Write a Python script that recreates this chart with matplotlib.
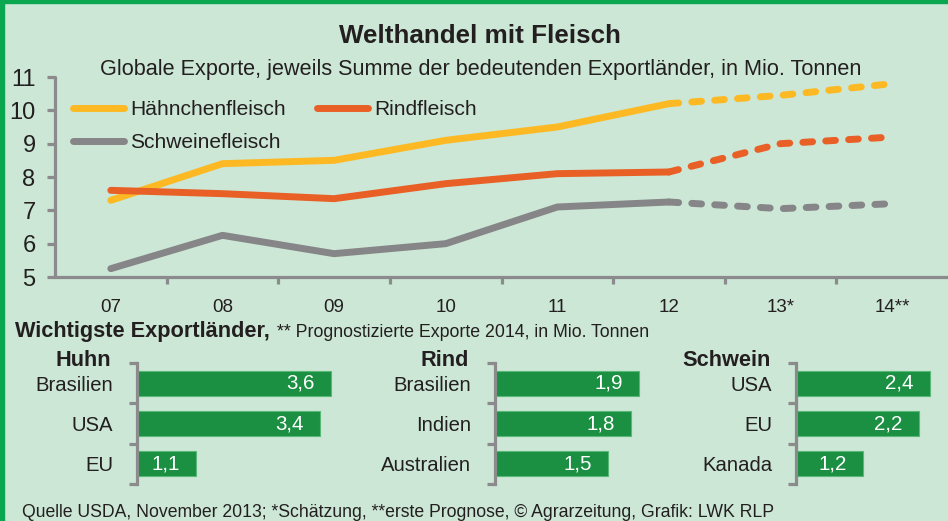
import matplotlib
matplotlib.use('Agg')
import matplotlib.pyplot as plt
from matplotlib import font_manager
from matplotlib.patches import Rectangle

# ---------------- data ----------------
years = ['07', '08', '09', '10', '11', '12', '13*', '14**']
haehnchen = [7.3, 8.4, 8.5, 9.1, 9.5, 10.2, 10.45, 10.8]
rind = [7.6, 7.5, 7.35, 7.8, 8.1, 8.15, 9.0, 9.2]
schwein = [5.25, 6.25, 5.7, 6.0, 7.1, 7.25, 7.05, 7.2]
n_actual = 6  # 07..12 actual (solid), 12..14 estimate/forecast (dashed)
yticks = [5, 6, 7, 8, 9, 10, 11]

huhn_countries = ['Brasilien', 'USA', 'EU']
huhn_values = [3.6, 3.4, 1.1]
rind_countries = ['Brasilien', 'Indien', 'Australien']
rind_values = [1.9, 1.8, 1.5]
schwein_countries = ['USA', 'EU', 'Kanada']
schwein_values = [2.4, 2.2, 1.2]

# ---------------- style ----------------
names = {f.name for f in font_manager.fontManager.ttflist}
if 'Liberation Sans Narrow' in names:
    FONT, S = 'Liberation Sans Narrow', 1.19
else:
    FONT, S = 'Liberation Sans', 1.0
plt.rcParams['font.family'] = [FONT, 'DejaVu Sans']

BG = '#cce7d5'
BORDER = '#0aa650'
TXT = '#231f20'
AX = '#8b8b8d'
C_H = '#fdb924'
C_R = '#e96027'
C_S = '#868588'
BAR = '#1b9042'

W, H = 948, 521
fig = plt.figure(figsize=(W / 100, H / 100), dpi=100, facecolor=BG)


def fx(px):
    return px / W


def fy(py):
    return 1 - py / H


# border
fig.patches.append(Rectangle((0, fy(3)), 1, 3 / H, transform=fig.transFigure,
                             color=BORDER, zorder=10))
fig.patches.append(Rectangle((0, 0), 3.5 / W, 1, transform=fig.transFigure,
                             color=BORDER, zorder=10))

# titles
fig.text(fx(480), fy(43), 'Welthandel mit Fleisch', ha='center', va='baseline',
         fontsize=18.7 * S, fontweight='bold', color=TXT)
fig.text(fx(481), fy(75), 'Globale Exporte, jeweils Summe der bedeutenden Exportländer, in Mio. Tonnen',
         ha='center', va='baseline', fontsize=15.6 * S, color=TXT)

# ---------------- line chart ----------------
ax = fig.add_axes([fx(55), fy(277), fx(893), 200 / H])
ax.set_facecolor('none')
x = list(range(len(years)))
lw = 5
series = [(haehnchen, C_H, 'Hähnchenfleisch'), (rind, C_R, 'Rindfleisch'),
          (schwein, C_S, 'Schweinefleisch')]
handles = {}
for vals, col, lab in series:
    h, = ax.plot(x[:n_actual], vals[:n_actual], color=col, lw=lw,
                 solid_capstyle='round', solid_joinstyle='round', label=lab)
    ax.plot(x[n_actual - 1:], vals[n_actual - 1:], color=col, lw=lw,
            dashes=(1.4, 1.9), dash_capstyle='round', dash_joinstyle='round')
    handles[lab] = h

ax.set_xlim(-0.5, len(years) - 0.5)
ax.set_ylim(5, 11)
ax.set_yticks(yticks)
ax.set_yticklabels([str(v) for v in yticks])
ax.set_xticks(x)
ax.set_xticklabels(years)
ax.set_xticks([i + 0.5 for i in x[:-1]], minor=True)
for sp in ['top', 'right']:
    ax.spines[sp].set_visible(False)
for sp in ['left', 'bottom']:
    ax.spines[sp].set_color(AX)
    ax.spines[sp].set_linewidth(2.3)
    ax.spines[sp].set_capstyle('round')
ax.tick_params(axis='y', direction='out', length=6, width=2.3, color=AX,
               labelsize=17, labelcolor=TXT, pad=8)
for t in ax.get_yticklabels():
    t.set_fontfamily(['Liberation Sans', 'DejaVu Sans'])
ax.tick_params(axis='x', which='major', length=0, labelsize=13.5 * S,
               labelcolor=TXT, pad=16)
ax.tick_params(axis='x', which='minor', direction='out', length=5, width=2.3, color=AX)

order = ['Hähnchenfleisch', 'Schweinefleisch', 'Rindfleisch']
leg = ax.legend([handles[k] for k in order], order, ncol=2, frameon=False,
                loc='upper left', bbox_to_anchor=(fx(73), fy(100)),
                bbox_transform=fig.transFigure, fontsize=15.1 * S,
                handlelength=2.42, handletextpad=0.3, columnspacing=1.5,
                labelspacing=0.68, borderpad=0, borderaxespad=0)
for t in leg.get_texts():
    t.set_color(TXT)

# ---------------- bar panels ----------------
panel_top, panel_bot = 363, 484


def panel(left_px, width_px, scale, countries, values, heading):
    a = fig.add_axes([fx(left_px), fy(panel_bot), fx(width_px), (panel_bot - panel_top) / H])
    a.set_facecolor('none')
    pos = list(range(len(countries)))
    a.barh(pos, values, height=0.62, color=BAR, edgecolor='#58b878', linewidth=0.8)
    a.set_xlim(0, width_px / scale)
    a.set_ylim(len(countries) - 0.5, -0.5)
    a.set_yticks(pos)
    a.set_yticklabels(countries)
    a.set_yticks([p - 0.5 for p in pos] + [pos[-1] + 0.5], minor=True)
    a.set_xticks([])
    for sp in ['top', 'right', 'bottom']:
        a.spines[sp].set_visible(False)
    a.spines['left'].set_color(AX)
    a.spines['left'].set_linewidth(2.3)
    a.tick_params(axis='y', which='major', length=0, pad=17, labelsize=14.6 * S, labelcolor=TXT)
    a.tick_params(axis='y', which='minor', direction='out', length=5.5, width=2.3, color=AX)
    for p, v in zip(pos, values):
        a.annotate(f'{v:.1f}'.replace('.', ','), xy=(v, p), xytext=(-11.5, 0),
                   textcoords='offset points', ha='right', va='center',
                   color='white', fontsize=14.8 * S)
    a.annotate(heading, xy=(0, 1), xycoords='axes fraction', xytext=(-18.5, 1.5),
               textcoords='offset points', ha='right', va='center',
               fontsize=15.7 * S, fontweight='bold', color=TXT)
    return a


panel(136.5, 200, 54.0, huhn_countries, huhn_values, 'Huhn')
panel(494.5, 160, 75.9, rind_countries, rind_values, 'Rind')
panel(796, 145, 55.8, schwein_countries, schwein_values, 'Schwein')

# section heading
fig.canvas.draw()
t1 = fig.text(fx(15), fy(337), 'Wichtigste Exportländer,', ha='left', va='baseline',
              fontsize=15.7 * S, fontweight='bold', color=TXT)
fig.canvas.draw()
bb = t1.get_window_extent()
fig.text((bb.x1 + 7) / W, fy(337), '** Prognostizierte Exporte 2014, in Mio. Tonnen',
         ha='left', va='baseline', fontsize=12.8 * S, color=TXT)

# footer
fig.text(fx(22), fy(517), 'Quelle USDA, November 2013; *Schätzung, **erste Prognose, © Agrarzeitung, Grafik: LWK RLP',
         ha='left', va='baseline', fontsize=12.7 * S, color=TXT)

fig.savefig('out.png', dpi=100, facecolor=BG)
